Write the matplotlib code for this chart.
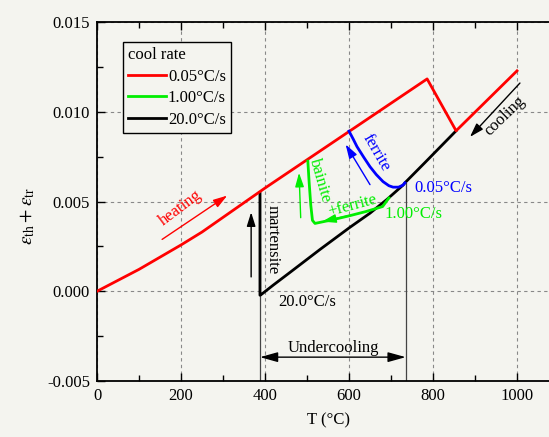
import numpy as np
import matplotlib
matplotlib.use("Agg")
import matplotlib.pyplot as plt
from matplotlib.ticker import MultipleLocator, FormatStrFormatter

plt.rcParams["font.family"] = ["Liberation Serif", "DejaVu Serif"]
plt.rcParams["mathtext.fontset"] = "stix"
plt.rcParams["font.size"] = 12

BG = "#f4f4ef"

# heating then cooling at 0.05 C/s (red)
red_T = [0, 100, 200, 250, 400, 600, 786, 855, 1000]
red_e = [0.0, 0.00122, 0.00258, 0.00330, 0.00575, 0.00890, 0.01183, 0.00894, 0.01228]

# cooling at 20 C/s (black): linear part, then curve down to Ms, then martensite jump
black_T = [855, 780, 733, 729, 690, 650, 602, 531, 460, 420, 390, 388, 388]
black_e = [0.00894, 0.00715, 0.00604, 0.00592, 0.00511, 0.00435, 0.00356, 0.00233, 0.00106, 0.00035, -0.00020, -0.00022, 0.00550]

# ferrite branch at 0.05 C/s (blue)
blue_T = [600, 610, 619, 635, 650, 665, 681, 695, 705, 718, 729, 733]
blue_e = [0.00892, 0.00848, 0.00806, 0.00747, 0.00694, 0.00650, 0.00611, 0.00588, 0.00580, 0.00580, 0.00592, 0.00604]

# bainite+ferrite branch at 1.00 C/s (green)
green_T = [502, 505, 509, 513, 519, 560, 600, 640, 680, 695]
green_e = [0.00725, 0.00610, 0.00480, 0.00395, 0.00378, 0.00398, 0.00420, 0.00444, 0.00472, 0.00520]

legend_labels = ["0.05°C/s", "1.00°C/s", "20.0°C/s"]
Ms_T = 388
Ar_T = 735


def main() -> None:
    fig = plt.figure(figsize=(5.49, 4.37), dpi=100, facecolor=BG)
    ax = fig.add_axes([0.1767, 0.1281, 0.8415, 0.8215], facecolor=BG)

    ax.set_xlim(0, 1100)
    ax.set_ylim(-0.005, 0.015)

    # thin guide lines for the undercooling range
    ax.plot([Ms_T, Ms_T], [-0.005, 0.0055], color="#444444", lw=0.9, zorder=2)
    ax.plot([Ar_T, Ar_T], [-0.005, 0.00604], color="#444444", lw=0.9, zorder=2)

    ax.plot(red_T, red_e, color="#ff0000", lw=2.0, label=legend_labels[0], zorder=4)
    ax.plot(green_T, green_e, color="#00ee00", lw=2.0, label=legend_labels[1], zorder=4)
    ax.plot(black_T, black_e, color="black", lw=2.0, label=legend_labels[2], zorder=3)
    ax.plot(blue_T, blue_e, color="#0000ff", lw=2.0, zorder=4)

    arrow = dict(arrowstyle="-|>,head_length=0.7,head_width=0.22", lw=1.0, shrinkA=0, shrinkB=0)

    # heating
    ax.annotate("", xy=(310, 0.00533), xytext=(155, 0.00289),
                arrowprops=dict(arrow, color="#ff0000"))
    ax.text(200, 0.00465, "heating", color="#ff0000", rotation=37,
            ha="center", va="center")

    # cooling
    ax.annotate("", xy=(888, 0.0086), xytext=(1007, 0.0116),
                arrowprops=dict(arrow, color="black"))
    ax.text(972, 0.00975, "cooling", color="black", rotation=44,
            ha="center", va="center")

    # ferrite
    ax.annotate("", xy=(592, 0.00818), xytext=(650, 0.00594),
                arrowprops=dict(arrow, color="#0000ff"))
    ax.text(664, 0.00772, "ferrite", color="#0000ff", rotation=-60,
            ha="center", va="center")
    ax.text(755, 0.00578, "0.05°C/s", color="#0000ff", ha="left", va="center")

    # bainite+ferrite
    ax.annotate("", xy=(481, 0.0066), xytext=(485, 0.0041),
                arrowprops=dict(arrow, color="#00ee00"))
    ax.annotate("", xy=(536, 0.00388), xytext=(600, 0.00422),
                arrowprops=dict(arrow, color="#00ee00"))
    ax.text(532, 0.00615, "bainite", color="#00ee00", rotation=-74,
            ha="center", va="center")
    ax.text(608, 0.00478, "+ferrite", color="#00ee00", rotation=15,
            ha="center", va="center")
    ax.text(684, 0.00428, "1.00°C/s", color="#00ee00", ha="left", va="center")

    # martensite
    ax.annotate("", xy=(367, 0.0044), xytext=(367, 0.0008),
                arrowprops=dict(arrow, color="black"))
    ax.text(419, 0.00290, "martensite", color="black", rotation=-90,
            ha="center", va="center")
    ax.text(432, -0.00058, "20.0°C/s", color="black", ha="left", va="center")

    # undercooling
    ax.annotate("", xy=(Ms_T, -0.00367), xytext=(Ar_T, -0.00367),
                arrowprops=dict(arrowstyle="<|-|>,head_length=0.9,head_width=0.25",
                                lw=1.0, color="black", shrinkA=0, shrinkB=0))
    ax.text(563, -0.00315, "Undercooling", color="black", ha="center", va="center")

    ax.xaxis.set_major_locator(MultipleLocator(200))
    ax.xaxis.set_minor_locator(MultipleLocator(100))
    ax.yaxis.set_major_locator(MultipleLocator(0.005))
    ax.yaxis.set_minor_locator(MultipleLocator(0.0025))
    ax.yaxis.set_major_formatter(FormatStrFormatter("%.3f"))
    ax.tick_params(which="both", direction="in", top=True, right=False,
                   width=1.0, labelsize=12, colors="black")
    ax.tick_params(which="major", length=6, pad=5)
    ax.tick_params(which="minor", length=4)
    for s in ax.spines.values():
        s.set_linewidth(1.3)
    ax.spines["right"].set_visible(False)

    ax.grid(True, which="major", color="#888888", lw=0.8, ls=(0, (3, 3)))
    ax.set_axisbelow(True)

    ax.set_xlabel("T (°C)", fontsize=12, labelpad=6)
    ax.set_ylabel(r"$\varepsilon_{\rm th}+\varepsilon_{\rm tr}$", fontsize=14)
    ax.yaxis.set_label_coords(-0.13, 0.46)

    leg = ax.legend(loc="upper left", bbox_to_anchor=(0.056, 0.944),
                    borderaxespad=0, fancybox=False, framealpha=1,
                    edgecolor="black", facecolor=BG, title="cool rate",
                    alignment="left", fontsize=12, title_fontsize=12,
                    handlelength=2.3, handletextpad=0.1, borderpad=0.3,
                    labelspacing=0.33)
    leg.get_frame().set_linewidth(1.0)

    fig.savefig("out.png", dpi=100, facecolor=BG)


if __name__ == "__main__":
    main()
